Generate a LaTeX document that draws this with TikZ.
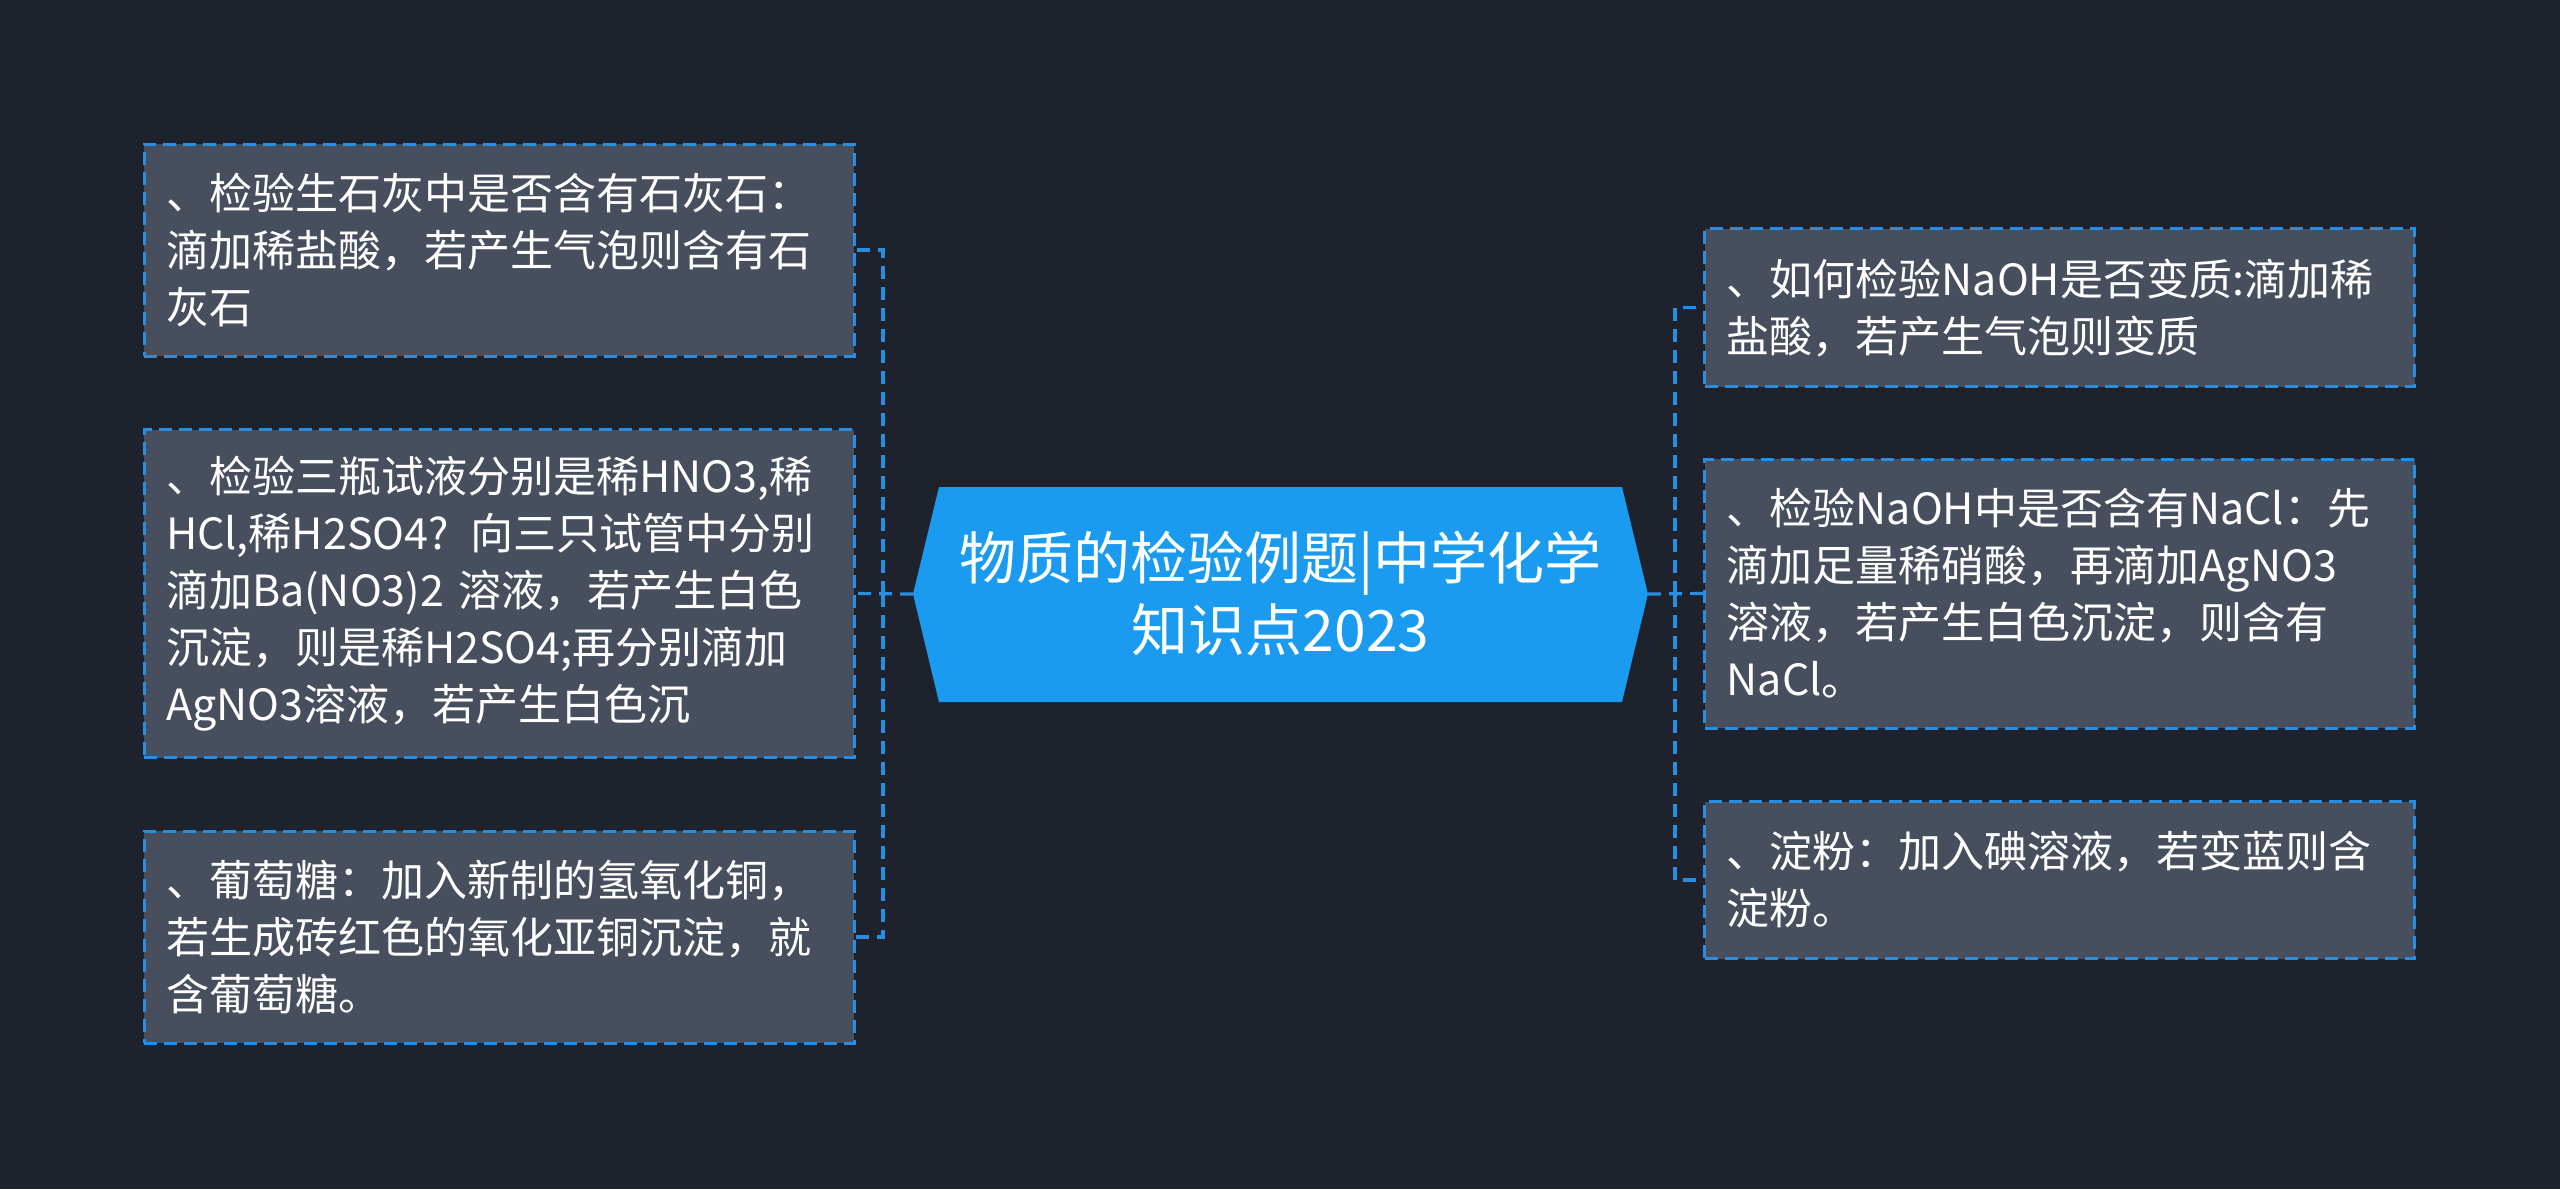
\documentclass[tikz,border=0pt]{standalone}
\usepackage{fontspec}
\setmainfont{Noto Sans CJK SC}
\definecolor{bgc}{HTML}{1E222D}
\definecolor{boxc}{HTML}{474E5D}
\definecolor{linec}{HTML}{2A8EE0}
\definecolor{hubc}{HTML}{1A9BF0}
\tikzset{
  leaf/.style={draw=linec, fill=boxc, line width=3pt, dash pattern=on 13pt off 7pt,
    inner xsep=22pt, inner ysep=0pt, text width=666pt, align=left, text=white,
    font=\fontsize{43}{57}\selectfont, anchor=center},
  conn/.style={draw=linec, line width=3.2pt, dash pattern=on 13pt off 8pt},
  hub/.style={fill=hubc},
  hubtext/.style={text=white, align=center, font=\fontsize{57}{72}\selectfont, inner sep=0pt}
}
\begin{document}
\begin{tikzpicture}[x=1pt,y=-1pt]
\fill[bgc] (0,0) rectangle (2560,1189);
\useasboundingbox (0,0) rectangle (2560,1189);

% hub
\fill[hub] (913,594) -- (939,487) -- (1622,487) -- (1648,594) -- (1622,702) -- (939,702) -- cycle;
\node[hubtext] (hub) at (1280.5,594) {物质的检验例题|中学化学\\知识点2023};
\coordinate (cw) at (913,594);
\coordinate (ce) at (1648,594);
\coordinate (lj) at (883,594);
\coordinate (rj) at (1675,594);

% left leaves
\node[leaf, minimum width=710pt, minimum height=212pt] (lb1) at (499,250)
  {、检验生石灰中是否含有石灰石：\\滴加稀盐酸，若产生气泡则含有石\\灰石};
\node[leaf, minimum width=710pt, minimum height=328pt] (lb2) at (499,593.5)
  {、检验三瓶试液分别是稀HNO3,稀\\HCl,稀H2SO4? 向三只试管中分别\\滴加Ba(NO3)2 溶液，若产生白色\\沉淀，则是稀H2SO4;再分别滴加\\AgNO3溶液，若产生白色沉};
\node[leaf, minimum width=710pt, minimum height=212pt] (lb3) at (499,937)
  {、葡萄糖：加入新制的氢氧化铜，\\若生成砖红色的氧化亚铜沉淀，就\\含葡萄糖。};

% right leaves
\node[leaf, minimum width=710pt, minimum height=158pt] (rb1) at (2059.7,307.8)
  {、如何检验NaOH是否变质:滴加稀\\盐酸，若产生气泡则变质};
\node[leaf, minimum width=710pt, minimum height=269pt] (rb2) at (2059.7,593.5)
  {、检验NaOH中是否含有NaCl：先\\滴加足量稀硝酸，再滴加AgNO3\\溶液，若产生白色沉淀，则含有\\NaCl。};
\node[leaf, minimum width=710pt, minimum height=157pt] (rb3) at (2059.7,880)
  {、淀粉：加入碘溶液，若变蓝则含\\淀粉。};

% connectors
\draw[conn] (cw) -- (lb2.east);
\draw[conn] (lj) |- (lb1.east);
\draw[conn] (lj) |- (lb3.east);
\draw[conn] (ce) -- (rb2.west);
\draw[conn] (rj) |- (rb1.west);
\draw[conn] (rj) |- (rb3.west);
\end{tikzpicture}
\end{document}
